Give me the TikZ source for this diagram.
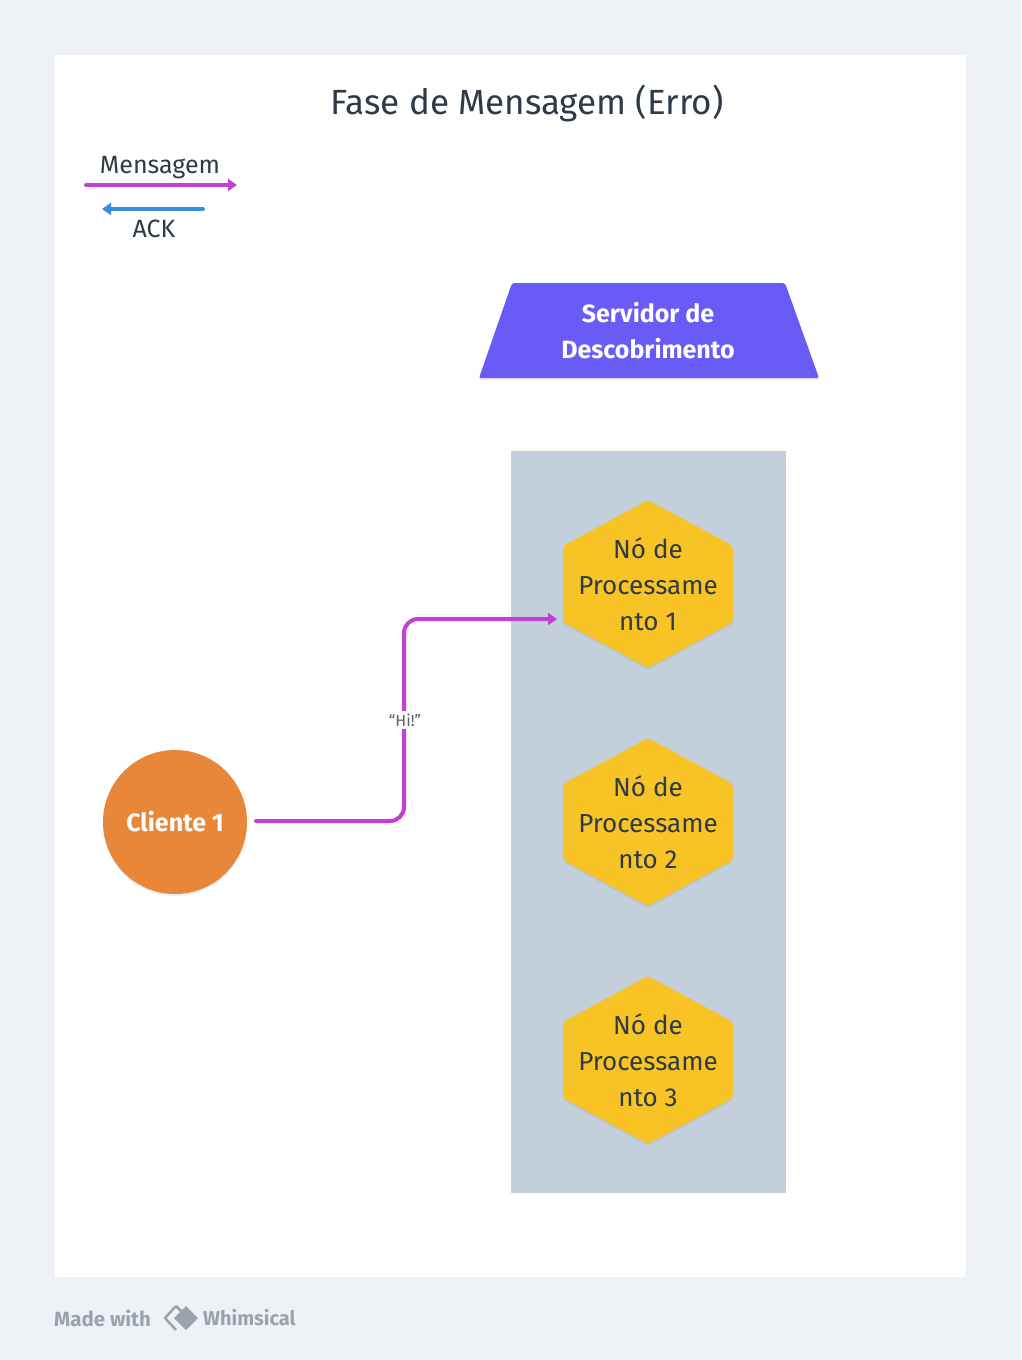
\documentclass[tikz,border=0pt]{standalone}
\usepackage{fontspec}
\setmainfont{Fira Sans}
\usetikzlibrary{arrows.meta,shadows}
\definecolor{bgc}{HTML}{EEF2F6}
\definecolor{txt}{HTML}{2E3A48}
\definecolor{msg}{HTML}{C43FD8}
\definecolor{ack}{HTML}{3B8EDB}
\definecolor{srv}{HTML}{695BF5}
\definecolor{grp}{HTML}{C3D0DB}
\definecolor{hexc}{HTML}{F7C325}
\definecolor{cli}{HTML}{E8873A}
\definecolor{foot}{HTML}{99A3AD}
\tikzset{
  x=1pt,y=-1pt,
  lbl/.style={text=txt,inner sep=0pt},
  hexlbl/.style={text=txt,align=center,font=\fontsize{26}{36}\selectfont,inner sep=0pt},
  hexshape/.style={fill=hexc,rounded corners=4pt,drop shadow={opacity=0.15,shadow xshift=0pt,shadow yshift=-2pt}},
  msgline/.style={draw=msg,line width=4pt,line cap=round,-{Triangle[length=9pt,width=12pt]}},
  ackline/.style={draw=ack,line width=4pt,line cap=round,-{Triangle[length=9pt,width=12pt]}},
}
\begin{document}
\begin{tikzpicture}
\useasboundingbox (0,0) rectangle (1021,1360);
\fill[bgc] (0,0) rectangle (1021,1360);
\fill[white] (55,55) rectangle (966,1277);
\node[lbl,font=\fontsize{35}{40}\selectfont] (title) at (527,103) {Fase de Mensagem (Erro)};
% legend
\coordinate (m1) at (86,185); \coordinate (m2) at (237,185);
\draw[msgline] (m1) -- (m2);
\node[lbl,font=\fontsize{25}{28}\selectfont] (mtxt) at (160,168) {Mensagem};
\coordinate (a1) at (203,209); \coordinate (a2) at (102,209);
\draw[ackline] (a1) -- (a2);
\node[lbl,font=\fontsize{25}{28}\selectfont] (atxt) at (154,229) {ACK};
% server
\fill[srv,rounded corners=2pt,drop shadow={opacity=0.15,shadow xshift=0pt,shadow yshift=-2pt}] (512,283) -- (785,283) -- (819,378) -- (479,378) -- cycle;
\node[text=white,align=center,font=\fontsize{25}{36}\selectfont\bfseries,inner sep=0pt] (srvn) at (648,331) {Servidor de\\Descobrimento};
% group
\fill[grp] (511,451) rectangle (786,1193);
% hexagons
\foreach \i/\yc in {1/584,2/822,3/1060}{
  \fill[hexshape] (648,\yc-84) -- (733,\yc-38) -- (733,\yc+38) -- (648,\yc+84) -- (563,\yc+38) -- (563,\yc-38) -- cycle;
  \node[hexlbl] (hex\i) at (648,\yc) {Nó de\\Processame\\nto \i};
}
% client
\fill[cli,drop shadow={opacity=0.15,shadow xshift=0pt,shadow yshift=-2pt}] (175,822) circle (72);
\node[text=white,font=\fontsize{25}{28}\selectfont\bfseries,inner sep=0pt] (cli) at (175,822) {Cliente 1};
% connector
\coordinate (cs) at (256,821);
\coordinate (ce) at (557,619);
\draw[msgline,rounded corners=14pt] (cs) -- (404,821) -- (404,619) -- (ce);
\node[fill=white,inner sep=3pt,text=txt!80,font=\fontsize{16}{18}\selectfont] (hi) at (405,720) {“Hi!”};
% footer
\node[anchor=west,text=foot,font=\fontsize{20.5}{24}\selectfont\bfseries,inner sep=0pt] (made) at (54,1318) {Made with};
\draw[foot,line width=2.5pt,line join=round] (176,1306) -- (165,1318) -- (176,1330);
\draw[foot,line width=2.5pt,line join=round] (176,1306) -- (184,1314);
\fill[foot] (186,1306) -- (198,1318) -- (186,1330) -- (174,1318) -- cycle;
\node[anchor=west,text=foot,font=\fontsize{20}{24}\selectfont\bfseries,inner sep=0pt] (whim) at (203,1318) {Whimsical};
\end{tikzpicture}
\end{document}
